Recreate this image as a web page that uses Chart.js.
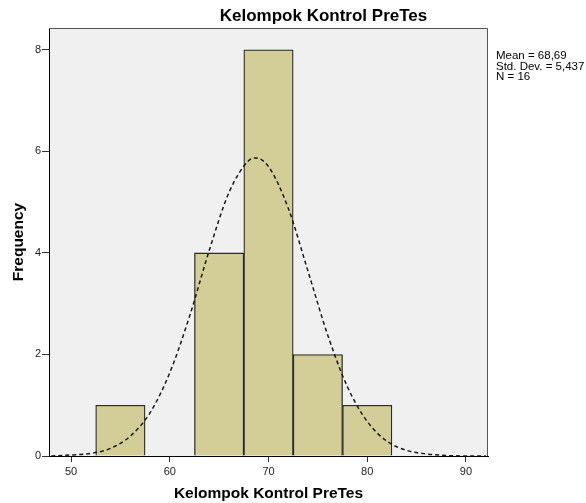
<!DOCTYPE html>
<html>
<head>
<meta charset="utf-8">
<script src="https://cdn.jsdelivr.net/npm/chart.js@4"></script>
<style>
    html, body { margin: 0; padding: 0; background: #fff; overflow: hidden; }
    #wrap { position: relative; width: 586px; height: 503px; }
    #chart-title {
        position: absolute; left: 323.5px; top: 7px; transform: translateX(-50%);
        font: bold 17px "Liberation Sans", Arial, sans-serif; line-height: 17px;
        color: #000; white-space: nowrap;
    }
    #stats {
        position: absolute; left: 496px; top: 50px;
        font: 11.5px "Liberation Sans", Arial, sans-serif; line-height: 10.5px;
        color: #000; white-space: nowrap;
    }
</style>
</head>
<body>
<div id="wrap">
    <canvas id="histChart" width="586" height="503"></canvas>
    <div id="chart-title">Kelompok Kontrol PreTes</div>
    <div id="stats">Mean = 68,69<br>Std. Dev. = 5,437<br>N = 16</div>
</div>
<script>
// histogram bins (bin centres, width 5)
const binCenters = [55, 60, 65, 70, 75, 80];
const binCounts = [1, 0, 4, 8, 2, 1];

// normal curve
const curveX = [48, 50, 52, 54, 56, 58, 60, 62, 64, 66, 68, 68.7, 70, 72, 74, 76, 78, 80, 82, 84, 86, 88, 90, 92];
const curveY = [0.00, 0.02, 0.05, 0.15, 0.39, 0.85, 1.64, 2.75, 4.05, 5.19, 5.82, 5.87, 5.70, 4.88, 3.64, 2.38, 1.36, 0.68, 0.29, 0.11, 0.04, 0.01, 0.00, 0.00];

const xLimits = [47.77, 92.23];
const yLimits = [0, 8.43];
const xTickStep = 10;
const yTickStep = 2;

const axisTitle = "Kelompok Kontrol PreTes";
const yTitle = "Frequency";

const fontFamily = '"Liberation Sans", Arial, sans-serif';

// grey plot background + top/right frame
const plotFrame = {
    id: 'plotFrame',
    beforeDraw(chart) {
        const { ctx, chartArea: a } = chart;
        ctx.save();
        ctx.fillStyle = '#f0f0f0';
        ctx.fillRect(a.left, a.top, a.right - a.left, a.bottom - a.top);
        ctx.restore();
    },
    afterDatasetsDraw(chart) {
        const { ctx, chartArea: a } = chart;
        ctx.save();
        ctx.strokeStyle = '#555';
        ctx.lineWidth = 1;
        ctx.beginPath();
        ctx.moveTo(a.left, a.top + 0.5);
        ctx.lineTo(a.right - 0.5, a.top + 0.5);
        ctx.lineTo(a.right - 0.5, a.bottom);
        ctx.stroke();
        ctx.restore();
    }
};

new Chart(document.getElementById('histChart'), {
    type: 'bar',
    data: {
        datasets: [
            {
                type: 'line',
                data: curveX.map((x, i) => ({ x, y: curveY[i] })),
                borderColor: '#1a1a1a',
                borderWidth: 1.5,
                borderDash: [4, 3],
                pointRadius: 0,
                fill: false,
                cubicInterpolationMode: 'monotone',
                order: 0
            },
            {
                type: 'bar',
                data: binCenters.map((x, i) => ({ x, y: binCounts[i] })),
                backgroundColor: '#d3ce98',
                borderColor: '#2a2a2a',
                borderWidth: 1.3,
                barPercentage: 1,
                categoryPercentage: 1,
                order: 1
            }
        ]
    },
    options: {
        responsive: false,
        animation: false,
        layout: { padding: { top: 28, right: 98, left: 0, bottom: 0 } },
        plugins: {
            legend: { display: false },
            tooltip: { enabled: false },
            title: { display: false }
        },
        scales: {
            x: {
                type: 'linear',
                min: xLimits[0],
                max: xLimits[1],
                offset: false,
                grid: { offset: false, drawOnChartArea: false, drawTicks: true, tickLength: 6, color: '#333' },
                border: { display: true, color: '#000', width: 1 },
                ticks: {
                    stepSize: xTickStep, includeBounds: false, padding: 3,
                    color: '#222', font: { family: fontFamily, size: 11 }, maxRotation: 0
                },
                title: {
                    display: true, text: axisTitle, color: '#000',
                    font: { family: fontFamily, size: 15.5, weight: 'bold' },
                    padding: { top: 0, bottom: 0 }
                },
                afterFit(scale) { scale.height = 47; }
            },
            y: {
                min: yLimits[0],
                max: yLimits[1],
                grid: { drawOnChartArea: false, drawTicks: true, tickLength: 7, color: '#333' },
                border: { display: true, color: '#000', width: 1 },
                ticks: {
                    stepSize: yTickStep, includeBounds: false, padding: 1,
                    color: '#222', font: { family: fontFamily, size: 11 }
                },
                title: {
                    display: true, text: yTitle, color: '#000',
                    font: { family: fontFamily, size: 15.5, weight: 'bold' },
                    padding: { top: 9, bottom: 0 }
                },
                afterFit(scale) { scale.width = 49; }
            }
        }
    },
    plugins: [plotFrame]
});
</script>
</body>
</html>
